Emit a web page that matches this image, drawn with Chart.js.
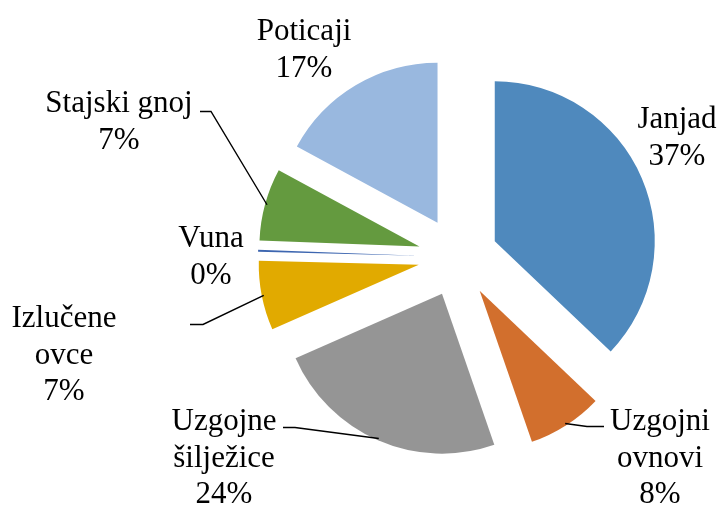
<!DOCTYPE html>
<html lang="hr">
<head>
<meta charset="UTF-8">
<title>Struktura prihoda</title>
<style>
  html, body { margin: 0; padding: 0; background: #fff; }
  #wrap { width: 720px; height: 505px; }
</style>
</head>
<body>
<div id="wrap"><canvas id="pie"></canvas></div>

<script src="https://cdn.jsdelivr.net/npm/chart.js"></script>
<script>
const categories = ['Janjad', 'Uzgojni ovnovi', 'Uzgojne šilježice', 'Izlučene ovce', 'Vuna', 'Stajski gnoj', 'Poticaji'];
const shares = [37.1, 7.6, 23.7, 7.0, 0.2, 7.3, 17.1];
const colors = ['#4F89BD', '#D26F2D', '#959595', '#E1AA00', '#3D66B0', '#649A3F', '#99B8DF'];

// where each label sits (centre x, first baseline) and its leader elbow
const labelSpots = [
  { x: 677, y: 128, wrap: true },
  { x: 660, y: 430, wrap: true, leader: [604, 426.5, 587, 426.5] },
  { x: 224, y: 430, wrap: true, leader: [283, 427.5, 295, 427.5] },
  { x: 64, y: 327, wrap: true, leader: [190, 324.5, 203, 324.5] },
  { x: 211, y: 247, wrap: false },
  { x: 119, y: 112, wrap: false, leader: [200, 111.5, 211, 111.5] },
  { x: 304, y: 40, wrap: false }
];

const GAP = 40;          // how far each slice is pulled out
const LINE_H = 36.5;

const explode = {
  id: 'explode',
  afterDatasetUpdate(chart, args) {
    chart.getDatasetMeta(args.index).data.forEach(arc => {
      const mid = (arc.startAngle + arc.endAngle) / 2;
      arc.x += Math.cos(mid) * GAP;
      arc.y += Math.sin(mid) * GAP;
    });
  }
};

const sliceLabels = {
  id: 'sliceLabels',
  afterDraw(chart) {
    const ctx = chart.ctx;
    const arcs = chart.getDatasetMeta(0).data;
    const total = shares.reduce((a, b) => a + b, 0);
    ctx.save();

    // leader lines
    ctx.strokeStyle = '#000';
    ctx.lineWidth = 1.4;
    arcs.forEach((arc, i) => {
      const spot = labelSpots[i];
      if (!spot.leader) return;
      const mid = (arc.startAngle + arc.endAngle) / 2;
      const r = arc.outerRadius - 2;
      ctx.beginPath();
      ctx.moveTo(spot.leader[0], spot.leader[1]);
      ctx.lineTo(spot.leader[2], spot.leader[3]);
      ctx.lineTo(arc.x + Math.cos(mid) * r, arc.y + Math.sin(mid) * r);
      ctx.stroke();
    });

    // texts
    ctx.fillStyle = '#000';
    ctx.font = '31px "Liberation Serif", "Times New Roman", serif';
    ctx.textAlign = 'center';
    ctx.textBaseline = 'alphabetic';
    categories.forEach((name, i) => {
      const spot = labelSpots[i];
      const lines = spot.wrap ? name.split(' ') : [name];
      lines.push(Math.round(shares[i] / total * 100) + '%');
      lines.forEach((t, k) => ctx.fillText(t, spot.x, spot.y + k * LINE_H));
    });
    ctx.restore();
  }
};

new Chart(document.getElementById('pie'), {
  type: 'pie',
  data: {
    labels: categories,
    datasets: [{
      data: shares,
      backgroundColor: colors,
      borderWidth: 0,
      radius: 160
    }]
  },
  options: {
    responsive: true,
    maintainAspectRatio: false,
    animation: false,
    events: [],
    layout: { padding: { left: 196, top: 9, right: 0, bottom: 0 } },
    plugins: {
      legend: { display: false },
      tooltip: { enabled: false }
    }
  },
  plugins: [explode, sliceLabels]
});
</script>
</body>
</html>
